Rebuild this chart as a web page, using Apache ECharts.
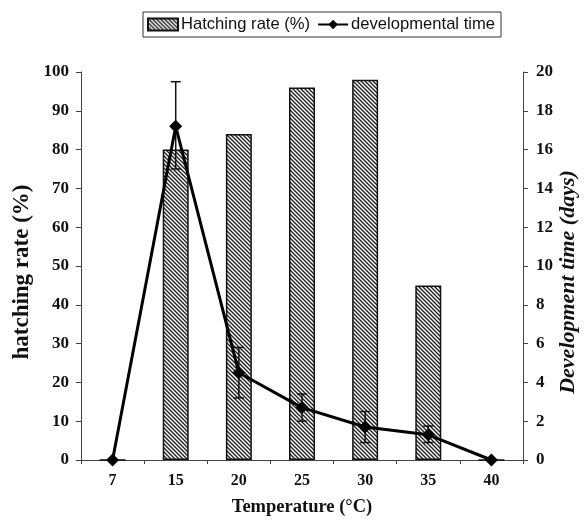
<!DOCTYPE html>
<html>
<head>
<meta charset="utf-8">
<script src="https://cdn.jsdelivr.net/npm/echarts@6/dist/echarts.min.js"></script>
<style>
  html, body { margin: 0; padding: 0; background: #fff; }
  #chart { width: 584px; height: 520px; }
</style>
</head>
<body>
<div id="chart"></div>
<script>
let temps = ['7', '15', '20', '25', '30', '35', '40'];
let hatchingRate = [0, 80, 84, 96, 98, 45, 0];
let devTime = [0, 17.2, 4.5, 2.7, 1.7, 1.3, 0];
// error bar low / high (days)
let devLow = [null, 15.0, 3.2, 2.0, 0.9, 0.9, null];
let devHigh = [null, 19.5, 5.8, 3.4, 2.5, 1.75, null];

// hatched fill for the bars
let hatch = document.createElement('canvas');
hatch.width = 4;
hatch.height = 4;
let hctx = hatch.getContext('2d');
hctx.fillStyle = '#ffffff';
hctx.fillRect(0, 0, 4, 4);
hctx.strokeStyle = '#222';
hctx.lineWidth = 1.4;
hctx.beginPath();
hctx.moveTo(-1, -1); hctx.lineTo(5, 5);
hctx.moveTo(-1, 3); hctx.lineTo(1, 5);
hctx.moveTo(3, -1); hctx.lineTo(5, 1);
hctx.stroke();

let errData = [];
for (let i = 0; i < temps.length; i++) {
  if (devLow[i] != null) errData.push([i, devLow[i], devHigh[i]]);
}

let chart = echarts.init(document.getElementById('chart'), null, { renderer: 'canvas' });

let serif = 'Liberation Serif';
let option = {
  animation: false,
  legend: {
    left: 143,
    top: 12,
    padding: [4, 6, 4, 4],
    borderColor: '#333',
    borderWidth: 1,
    itemGap: 7,
    itemWidth: 30,
    itemHeight: 12,
    textStyle: { fontFamily: 'Liberation Sans', fontSize: 16.6, color: '#111', padding: [0, 0, 0, -2] },
    data: [
      { name: 'Hatching rate (%)', icon: 'rect' },
      'developmental time',
    ],
  },
  grid: { left: 81, right: 61, top: 72, bottom: 60, outerBoundsMode: 'none', containLabel: false },
  graphic: [
    {
      type: 'text',
      x: 22,
      y: 272,
      rotation: Math.PI / 2,
      style: {
        text: 'hatching rate (%)',
        font: 'bold 23px "Liberation Serif"',
        fill: '#111',
        align: 'center',
        verticalAlign: 'middle',
      },
    },
    {
      type: 'text',
      x: 568,
      y: 282,
      rotation: Math.PI / 2,
      style: {
        text: 'Development time (days)',
        font: 'italic bold 22px "Liberation Serif"',
        fill: '#111',
        align: 'center',
        verticalAlign: 'middle',
      },
    },
  ],
  xAxis: {
    type: 'category',
    data: temps,
    name: 'Temperature (°C)',
    nameLocation: 'middle',
    nameGap: 38,
    nameTextStyle: { fontFamily: serif, fontWeight: 'bold', fontSize: 18.5, color: '#111' },
    axisLine: { lineStyle: { color: '#444', width: 1 } },
    axisTick: { show: true, length: 4, lineStyle: { color: '#444' } },
    axisLabel: { fontFamily: serif, fontWeight: 'bold', fontSize: 16, color: '#111', margin: 13 },
  },
  yAxis: [
    {
      type: 'value',
      min: 0,
      max: 100,
      interval: 10,
      splitLine: { show: false },
      axisLine: { show: true, lineStyle: { color: '#444', width: 1 } },
      axisTick: { show: true, length: 5, lineStyle: { color: '#444' } },
      axisLabel: { fontFamily: serif, fontWeight: 'bold', fontSize: 17, color: '#111', margin: 12 },
    },
    {
      type: 'value',
      min: 0,
      max: 20,
      interval: 2,
      splitLine: { show: false },
      axisLine: { show: true, lineStyle: { color: '#444', width: 1 } },
      axisTick: { show: true, length: 5, lineStyle: { color: '#444' } },
      axisLabel: { fontFamily: serif, fontWeight: 'bold', fontSize: 17, color: '#111', margin: 13 },
    },
  ],
  series: [
    {
      name: 'Hatching rate (%)',
      type: 'bar',
      yAxisIndex: 0,
      barWidth: 26,
      data: hatchingRate,
      itemStyle: {
        color: { image: hatch, repeat: 'repeat' },
        borderColor: '#111',
        borderWidth: 1.5,
      },
    },
    {
      name: 'error',
      type: 'custom',
      yAxisIndex: 1,
      z: 5,
      data: errData,
      renderItem: function (params, api) {
        let x = api.value(0);
        let lo = api.coord([x, api.value(1)]);
        let hi = api.coord([x, api.value(2)]);
        let w = 5;
        let style = { stroke: '#111', lineWidth: 1.5 };
        return {
          type: 'group',
          children: [
            { type: 'line', shape: { x1: lo[0], y1: lo[1], x2: hi[0], y2: hi[1] }, style: style },
            { type: 'line', shape: { x1: lo[0] - w, y1: lo[1], x2: lo[0] + w, y2: lo[1] }, style: style },
            { type: 'line', shape: { x1: hi[0] - w, y1: hi[1], x2: hi[0] + w, y2: hi[1] }, style: style },
          ],
        };
      },
    },
    {
      name: 'developmental time',
      type: 'line',
      yAxisIndex: 1,
      z: 10,
      data: devTime,
      symbol: 'diamond',
      symbolSize: 13,
      lineStyle: { color: '#000', width: 3 },
      itemStyle: { color: '#000' },
    },
  ],
};

chart.setOption(option);
window.addEventListener('resize', chart.resize);
</script>
</body>
</html>
